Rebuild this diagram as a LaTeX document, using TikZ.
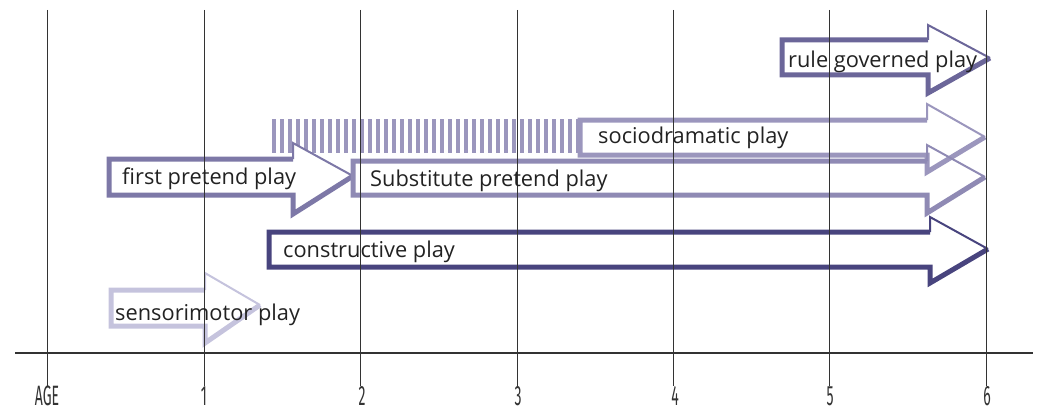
\documentclass[tikz,border=0pt]{standalone}
\usepackage{fontspec}
\setmainfont{Open Sans}
\newfontfamily\axisfont{Fira Sans}
\definecolor{cRule}{HTML}{6B6699}
\definecolor{cSocio}{HTML}{9B96BD}
\definecolor{cFirst}{HTML}{7D78A7}
\definecolor{cSubst}{HTML}{8F8AB4}
\definecolor{cConst}{HTML}{48447E}
\definecolor{cSenso}{HTML}{C5C3DD}
\definecolor{cGrid}{HTML}{333333}
\definecolor{cText}{HTML}{222222}
% #1 colour, #2 x0, #3 x head base, #4 x tip, #5 y top, #6 y bottom, #7 y head top, #8 y head bottom, #9 y tip
\newcommand\playarrow[9]{%
  \draw[#1, line width=5pt, line join=miter] (#4,#9) -- (#3,#8) -- (#3,#6) -- (#2,#6) -- (#2,#5) -- (#3,#5);
  \draw[#1, line width=2pt, line join=miter] (#3,#5) -- (#3,#7) -- (#4,#9);
}
\begin{document}
\begin{tikzpicture}[x=1pt,y=-1pt,
  lbl/.style={anchor=base west, inner sep=0pt, text=cText, font=\fontsize{21.8}{21.8}\selectfont},
  axlbl/.style={anchor=base, inner sep=0pt, text=cGrid},
  gridline/.style={cGrid, line width=0.9pt}]
\useasboundingbox (0,0) rectangle (1045,412);
% stripes of sociodramatic play
\foreach \i in {0,...,38} {
  \fill[cSocio] ({272+8*\i},119) rectangle ({276+8*\i},153);
}
% arrows
\playarrow{cRule}{782}{928}{990}{40}{75}{25}{93}{58}
\playarrow{cSocio}{580}{927}{985}{120}{155}{104}{172}{137}
\fill[white] (109,159) -- (293,159) -- (293,143) -- (353,176) -- (293,214) -- (293,195) -- (109,195) -- cycle;
\playarrow{cFirst}{109}{293}{353}{159}{195}{143}{214}{176}
\playarrow{cSubst}{353}{927}{985}{161}{195}{145}{213}{177}
\playarrow{cConst}{269}{930}{988}{232}{267}{217}{283}{249}
\playarrow{cSenso}{111}{205}{260}{290}{326}{273}{343}{305}
% grid
\foreach \x [count=\k] in {47,204,360,517,673,829,986} {
  \coordinate (gt\k) at (\x,10);
  \coordinate (gb\k) at (\x,386);
  \draw[gridline] (gt\k) -- (gb\k);
}
\coordinate (axl) at (15,353);
\coordinate (axr) at (1033,353);
\draw[cGrid, line width=1.4pt] (axl) -- (axr);
% axis labels
\node[axlbl] (age) at (47,405) {\scalebox{0.5}[1]{\axisfont\fontsize{28}{28}\selectfont AGE}};
\foreach \x/\t in {204/1,362/2,518/3,675/4,830/5,987/6} {
  \node[axlbl] (n\t) at (\x,405) {\scalebox{0.5}[1]{\axisfont\fontsize{28}{28}\selectfont \t}};
}
% labels
\node[lbl] (rule) at (788,67) {rule governed play};
\node[lbl] (socio) at (598,143) {sociodramatic play};
\node[lbl] (first) at (122,184) {first pretend play};
\node[lbl] (subst) at (370,186) {Substitute pretend play};
\node[lbl] (const) at (283,257) {constructive play};
\node[lbl] (senso) at (115,320) {sensorimotor play};
\end{tikzpicture}
\end{document}
